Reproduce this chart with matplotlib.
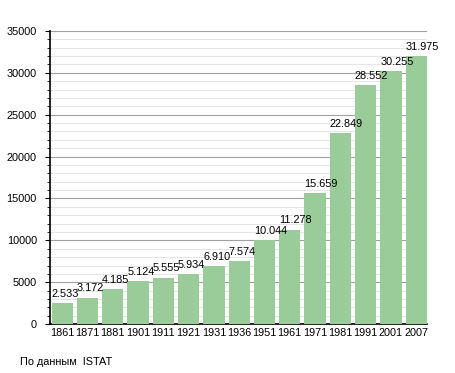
import matplotlib.pyplot as plt
from matplotlib.ticker import MultipleLocator

years = ['1861', '1871', '1881', '1901', '1911', '1921', '1931', '1936',
         '1951', '1961', '1971', '1981', '1991', '2001', '2007']
population = [2533, 3172, 4185, 5124, 5555, 5934, 6910, 7574,
              10044, 11278, 15659, 22849, 28552, 30255, 31975]
labels = ['2.533', '3.172', '4.185', '5.124', '5.555', '5.934', '6.910', '7.574',
          '10.044', '11.278', '15.659', '22.849', '28.552', '30.255', '31.975']

plt.rcParams['font.family'] = ['Liberation Sans', 'DejaVu Sans']

fig = plt.figure(figsize=(4.55, 3.73), dpi=100)
ax = fig.add_axes([0.110, 0.131, 0.828, 0.786])

x = range(len(years))
ax.bar(x, population, width=0.84, color='#99cc99', zorder=3)
for i in x:
    # подписи значений над столбцами, выровнены по левому краю
    ax.text(i - 0.42, population[i] + 500, labels[i], ha='left', va='bottom',
            fontsize=7.8, zorder=4)

ax.set_xlim(-0.48, len(years) - 0.58)
ax.set_ylim(0, 35000)
ax.set_xticks(list(x))
ax.set_xticklabels(years, fontsize=7.8)
ax.yaxis.set_major_locator(MultipleLocator(5000))
ax.yaxis.set_minor_locator(MultipleLocator(1000))
ax.tick_params(axis='y', labelsize=7.8, length=3.5, direction='out', pad=6)
ax.tick_params(axis='y', which='minor', length=2.5, direction='out')
ax.tick_params(axis='x', length=0, pad=3)
ax.grid(axis='y', which='major', color='#a0a0a0', linewidth=0.8, zorder=0)
ax.grid(axis='y', which='minor', color='#e0e0e0', linewidth=0.6, zorder=0)

for s in ['top', 'right']:
    ax.spines[s].set_visible(False)
ax.spines['left'].set_linewidth(1.2)
ax.spines['bottom'].set_linewidth(1.2)

fig.text(0.044, 0.022, 'По данным  ISTAT', fontsize=7.8)

fig.savefig('out.png', dpi=100)
